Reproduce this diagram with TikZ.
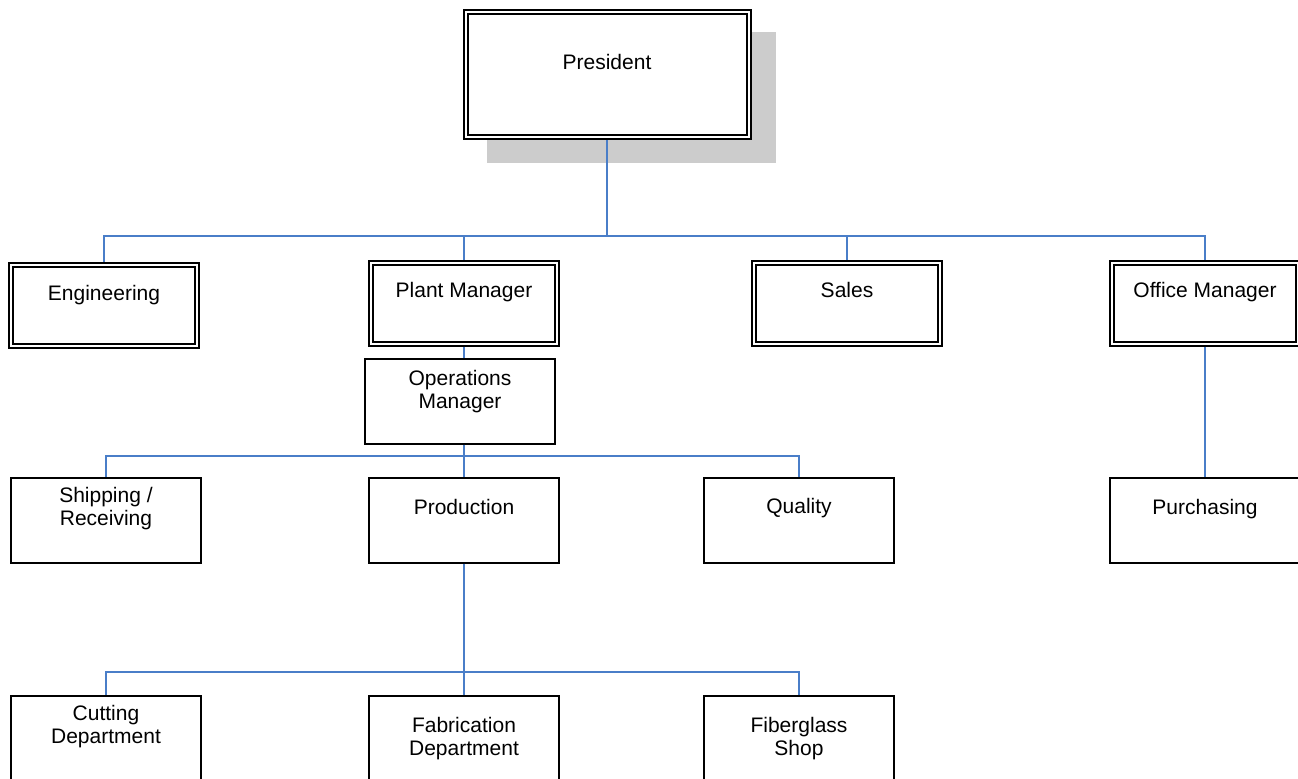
\documentclass[tikz,border=0pt]{standalone}
\usepackage{fontspec}
\setmainfont{Liberation Sans}
\usepackage{xcolor}
\usepackage{tikz}
\usetikzlibrary{positioning}
\usetikzlibrary{backgrounds}

\definecolor{linkblue}{RGB}{74,126,200}

\begin{document}
\begin{tikzpicture}[x=0.75pt, y=-0.75pt]

\tikzset{%
    every box/.style = {
        rectangle,
        draw,
        fill=white,
        line width=1.5pt,
        minimum width=142.5pt,
        minimum height=63.75pt,
        inner sep=0pt,
        outer sep=0.75pt
    },
    box double/.style = {
        double,
        double distance=1.5pt,
        minimum width=139.5pt,
        minimum height=60.75pt,
        outer sep=2.25pt
    },
    box top/.style = {
        box double,
        minimum width=212.25pt,
        minimum height=93.75pt
    },
    txt/.style = {
        anchor=north,
        align=center,
        inner sep=0pt,
        font=\fontsize{15.75}{17.25}\selectfont
    },
    link/.style = {
        draw=linkblue,
        line width=1.5pt
    }
}

\useasboundingbox (0,0) rectangle (1298,778);
\clip (0,0) rectangle (1298,778);

\foreach \m/\k/\x/\y/\s/\l in {
    pres/top/607/74.5/33.75/President,
    eng/double/104/305/18/Engineering,
    plant/double/464/303/17.25/{Plant Manager},
    sales/double/847/303/17.25/Sales,
    office/double/1205/303/17.25/{Office Manager},
    ops/single/460/401/9.75/{Operations\\Manager},
    ship/single/106/520/8.25/{Shipping /\\Receiving},
    prod/single/464/520/17.25/Production,
    qual/single/799/520/16.5/Quality,
    purch/single/1205/520/17.25/Purchasing,
    cut/single/106/738/8.25/{Cutting\\Department},
    fab/single/464/738/17.25/{Fabrication\\Department},
    fib/single/799/738/17.25/{Fiberglass\\Shop}}
  \node [every box/.try, box \k/.try,
         label={[txt, yshift=-\s pt]north:\l}] (\m) at (\x,\y) {};

% shadow of the president box
\begin{scope}[on background layer]
  \fill [white] (0,0) rectangle (1298,778);
  \fill [black!20] ([shift={(24,23)}]pres.south west)
    rectangle ([shift={(24,23)}]pres.north east);
\end{scope}

% first level
\draw [link] (pres.south) -- ++(0,96) coordinate (busA);
\foreach \m in {eng,plant,sales,office}
  \draw [link] (busA) -| (\m.north);

% plant
\draw [link] (plant.south) -- (plant.south |- ops.north);
\draw [link] (ops.south -| prod.north) -- ++(0,11.5) coordinate (busB);
\foreach \m in {ship,prod,qual}
  \draw [link] (busB) -| (\m.north);

\draw [link] (prod.south) -- ++(0,108.5) coordinate (busC);
\foreach \m in {cut,fab,fib}
  \draw [link] (busC) -| (\m.north);

% office
\draw [link] (office.south) -- (purch.north);

\end{tikzpicture}
\end{document}
